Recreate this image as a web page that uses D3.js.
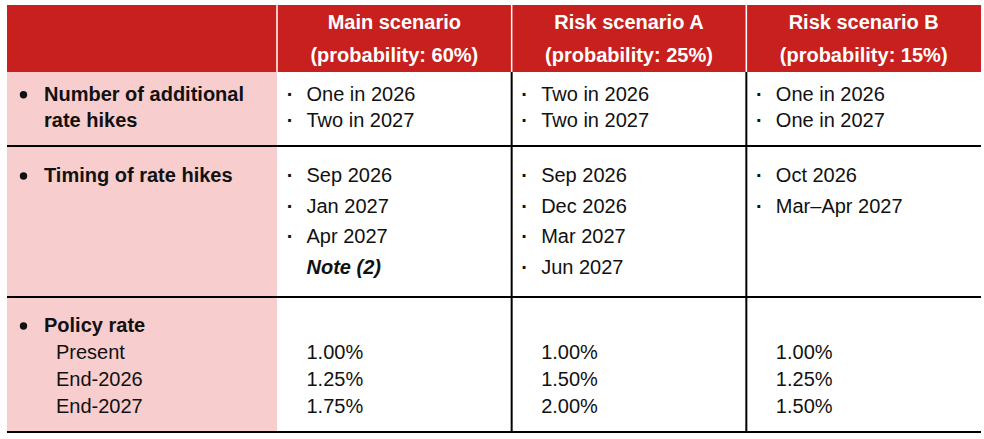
<!DOCTYPE html>
<html>
<head>
<meta charset="utf-8">
<script src="https://cdn.jsdelivr.net/npm/d3@7"></script>
<style>
  html, body { margin: 0; padding: 0; background: #fff; }
  svg { display: block; font-family: "Liberation Sans", Arial, sans-serif; }
</style>
</head>
<body>
<svg id="table" width="984" height="439"></svg>
<script>
// table contents
const scenarios = ["Main scenario", "Risk scenario A", "Risk scenario B"];
const probabilities = [60, 25, 15];
const rowLabels = [["Number of additional", "rate hikes"], ["Timing of rate hikes"], ["Policy rate"]];
const rateLabels = ["Present", "End-2026", "End-2027"];
const hikeCounts = [
    ["One in 2026", "Two in 2027"],
    ["Two in 2026", "Two in 2027"],
    ["One in 2026", "One in 2027"]
];
const hikeTiming = [
    ["Sep 2026", "Jan 2027", "Apr 2027"],
    ["Sep 2026", "Dec 2026", "Mar 2027", "Jun 2027"],
    ["Oct 2026", "Mar\u2013Apr 2027"]
];
const timingNotes = ["Note (2)", null, null];
const policyRates = [
    [1.00, 1.25, 1.75],
    [1.00, 1.50, 2.00],
    [1.00, 1.25, 1.50]
];

const red = "#c8201e";
const pink = "#f7cdcd";
const ink = "#111";
const fontSize = 20;

const svg = d3.select("#table");

// columns: label column then three equal scenario columns
const left = 7, labelRight = 277, right = 981;
const x = d3.scaleBand().domain(d3.range(scenarios.length)).range([labelRight, right]);

// rows: header, hikes, timing, policy rate
const rowTops = [5, 72, 146, 297, 432];

// header band
svg.append("rect")
    .attr("x", left).attr("y", rowTops[0])
    .attr("width", right - left).attr("height", rowTops[1] - rowTops[0])
    .attr("fill", red);

// label column background
svg.append("rect")
    .attr("x", left).attr("y", rowTops[1])
    .attr("width", labelRight - left).attr("height", rowTops[4] - rowTops[1])
    .attr("fill", pink);

// white separators in header
svg.append("g")
    .selectAll("line")
    .data(d3.range(scenarios.length))
    .join("line")
    .attr("x1", d => x(d)).attr("x2", d => x(d))
    .attr("y1", rowTops[0]).attr("y2", rowTops[1])
    .attr("stroke", "#fff").attr("stroke-width", 1.5);

// header text
const head = svg.append("g")
    .selectAll("text")
    .data(scenarios)
    .join("text")
    .attr("x", (d, i) => x(i) + x.bandwidth() / 2)
    .attr("text-anchor", "middle")
    .attr("fill", "#fff")
    .attr("font-weight", "bold")
    .attr("font-size", fontSize);
head.append("tspan").attr("y", rowTops[0] + 23.5).text(d => d);
head.append("tspan")
    .attr("x", (d, i) => x(i) + x.bandwidth() / 2)
    .attr("y", rowTops[0] + 57)
    .text((d, i) => `(probability: ${probabilities[i]}%)`);

// row separators
svg.append("g")
    .selectAll("line")
    .data(rowTops.slice(2))
    .join("line")
    .attr("x1", left).attr("x2", right)
    .attr("y1", d => d).attr("y2", d => d)
    .attr("stroke", "#000").attr("stroke-width", 2.2);

// vertical lines between scenario columns (body only)
svg.append("g")
    .selectAll("line")
    .data([1, 2])
    .join("line")
    .attr("x1", d => x(d)).attr("x2", d => x(d))
    .attr("y1", rowTops[1]).attr("y2", rowTops[4])
    .attr("stroke", "#000").attr("stroke-width", 2);

// row labels
const labelFirst = [28.8, 36, 35];
const labelGap = [26, 30.5, 27];
rowLabels.forEach((lines, r) => {
    const y0 = rowTops[r + 1] + labelFirst[r];
    svg.append("circle")
        .attr("cx", 23.5).attr("cy", y0 - 6)
        .attr("r", 3.7).attr("fill", ink);
    svg.append("g")
        .selectAll("text")
        .data(lines)
        .join("text")
        .attr("x", 44)
        .attr("y", (d, i) => y0 + i * labelGap[r])
        .attr("font-size", fontSize)
        .attr("font-weight", "bold")
        .attr("fill", ink)
        .text(d => d);
});

// bulleted lists in scenario cells
function bulletList(r, lists, gap, first) {
    lists.forEach((items, c) => {
        const cell = svg.append("g");
        const y0 = rowTops[r] + first;
        cell.selectAll("text.dot")
            .data(items)
            .join("text")
            .attr("class", "dot")
            .attr("x", x(c) + 13)
            .attr("y", (d, i) => y0 + i * gap)
            .attr("text-anchor", "middle")
            .attr("font-size", fontSize)
            .attr("font-weight", "bold")
            .attr("fill", ink)
            .text("\u00b7");
        cell.selectAll("text.item")
            .data(items)
            .join("text")
            .attr("class", "item")
            .attr("x", x(c) + 29.5)
            .attr("y", (d, i) => y0 + i * gap)
            .attr("font-size", fontSize)
            .attr("fill", ink)
            .text(d => d);
    });
}
bulletList(1, hikeCounts, 26, 28.8);
bulletList(2, hikeTiming, 30.6, 36);

// notes under timing
timingNotes.forEach((note, c) => {
    if (!note) return;
    svg.append("text")
        .attr("x", x(c) + 29.5)
        .attr("y", rowTops[2] + 36 + hikeTiming[c].length * 30.6)
        .attr("font-size", fontSize)
        .attr("font-weight", "bold")
        .attr("font-style", "italic")
        .attr("fill", ink)
        .text(note);
});

// policy rate sub-labels and values
const rateFirst = rowTops[3] + 61.5;
const rateGap = 27;
svg.append("g")
    .selectAll("text")
    .data(rateLabels)
    .join("text")
    .attr("x", 56)
    .attr("y", (d, i) => rateFirst + i * rateGap)
    .attr("font-size", fontSize)
    .attr("fill", ink)
    .text(d => d);

const fmt = d3.format(".2f");
policyRates.forEach((vals, c) => {
    svg.append("g")
        .selectAll("text")
        .data(vals)
        .join("text")
        .attr("x", x(c) + 29.5)
        .attr("y", (d, i) => rateFirst + i * rateGap)
        .attr("font-size", fontSize)
        .attr("fill", ink)
        .text(d => fmt(d) + "%");
});
</script>
</body>
</html>
